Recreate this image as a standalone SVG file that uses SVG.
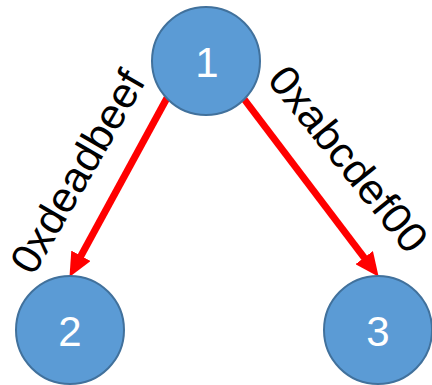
<svg xmlns="http://www.w3.org/2000/svg" width="432" height="385" viewBox="0 0 432 385">
  <style>
    .node circle { fill: #5B9BD5; stroke: #41719C; stroke-width: 2; }
    .node text { fill: #FFFFFF; font-family: "Liberation Sans", Arial, sans-serif; font-size: 42px; text-anchor: middle; }
    .edge { stroke: #FF0000; stroke-width: 7; fill: none; marker-end: url(#head); }
    .label { fill: #000000; font-family: "Liberation Sans", Arial, sans-serif; font-size: 42px; text-anchor: middle; }
  </style>
  <defs>
    <marker id="head" markerUnits="userSpaceOnUse" markerWidth="24" markerHeight="22" refX="11" refY="11" orient="auto">
      <path d="M0,0 L24,11 L0,22 z" fill="#FF0000"/>
    </marker>
  </defs>

  <g id="edges">
    <line class="edge" x1="167" y1="98" x2="75.7" y2="265.5"/>
    <line class="edge" x1="244" y1="99" x2="370.8" y2="266.4"/>
    <text class="label" transform="translate(90 179) rotate(-60)" textLength="226" lengthAdjust="spacingAndGlyphs">0xdeadbeef</text>
    <text class="label" transform="translate(337 168) rotate(51)" textLength="226" lengthAdjust="spacingAndGlyphs">0xabcdef00</text>
  </g>

  <g id="node1" class="node">
    <circle cx="206" cy="61" r="54"/>
    <text x="207" y="77">1</text>
  </g>
  <g id="node2" class="node">
    <circle cx="70" cy="330" r="54"/>
    <text x="70" y="346">2</text>
  </g>
  <g id="node3" class="node">
    <circle cx="378" cy="330" r="54"/>
    <text x="378" y="346">3</text>
  </g>
</svg>
